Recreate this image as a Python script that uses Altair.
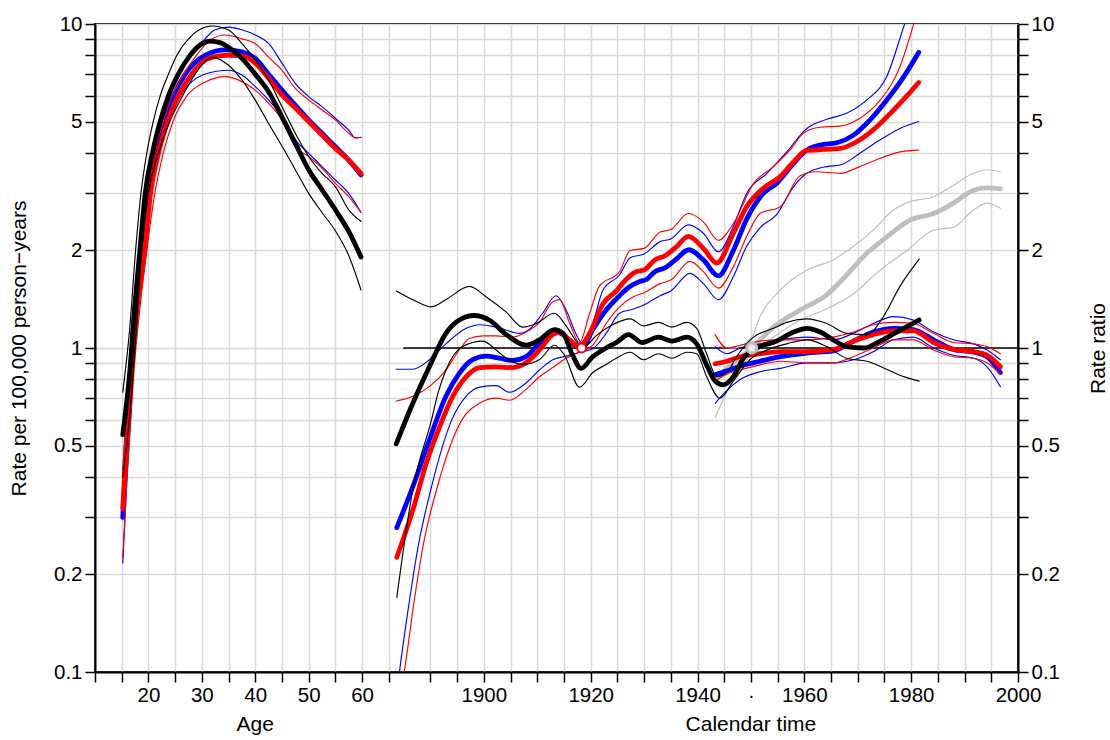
import altair as alt
import pandas as pd

# calendar year -> position on the shared horizontal axis (age units)
AGE_SHIFT = 1817.2

# ---------------- Age effects (x = age, y = rate per 100,000 person-years)
AGE_BLACK = [(15.2, 0.54), (16.5, 0.84), (17.5, 1.38), (18.4, 2.0), (19.4, 3.0), (20.75, 4.0),
             (22.2, 5.0), (23.75, 6.0), (25.6, 7.0), (27.8, 8.0), (29.6, 8.6), (31.6, 8.86),
             (33.5, 8.75), (35, 8.47), (37.5, 7.83), (40, 7.0), (42.5, 6.18), (45, 5.17),
             (47.5, 4.28), (50, 3.55), (52.5, 3.08), (55, 2.67), (57.5, 2.29), (59.8, 1.91)]
AGE_BLACK_HI = [(15.2, 0.73), (16.5, 1.15), (17.6, 2.0), (18.6, 3.0), (19.7, 4.0), (20.9, 5.0),
                (22.2, 6.0), (23.75, 7.0), (25.3, 8.0), (27.5, 9.0), (29.5, 9.6), (31.9, 9.86),
                (35, 9.58), (37.5, 8.71), (40, 7.74), (42.5, 6.72), (45, 5.56), (47.5, 4.6),
                (50, 3.9), (52.5, 3.46), (55, 3.15), (57.5, 2.67), (59.8, 2.46)]
AGE_BLACK_LO = [(15.2, 0.40), (16.5, 0.62), (17.5, 1.0), (18.75, 2.0), (20, 3.0), (21.9, 4.0),
                (24, 5.0), (26.4, 6.0), (28.75, 7.0), (31.9, 7.89), (35, 7.46), (37.5, 6.72),
                (40, 5.82), (42.5, 4.93), (45, 4.2), (47.5, 3.55), (50, 3.0), (52.5, 2.62),
                (55, 2.3), (57.5, 1.93), (59.8, 1.51)]
AGE_BLUE = [(15.2, 0.30), (15.9, 0.50), (17.05, 1.0), (19.0, 2.0), (20.1, 3.0), (21.4, 4.0),
            (22.9, 5.0), (24.7, 6.0), (26.9, 7.0), (30.6, 8.0), (34.4, 8.32), (37.5, 8.2),
            (40, 7.83), (42.5, 7.0), (45, 6.25), (47.5, 5.62), (50, 5.06), (52.5, 4.6),
            (55, 4.18), (57.5, 3.8), (59.8, 3.42)]
AGE_BLUE_HI = [(15.2, 0.42), (16, 0.7), (17, 1.25), (18.4, 2.0), (19.4, 3.0), (20.7, 4.0),
               (22.2, 5.0), (23.6, 6.0), (25.6, 7.0), (28.1, 8.0), (30.6, 9.0), (32.5, 9.6),
               (35, 9.78), (37.5, 9.6), (40, 9.25), (42.5, 8.71), (45, 7.57), (47.5, 6.56),
               (50, 5.97), (52.5, 5.56), (55, 5.12), (57.5, 4.7), (58.8, 4.45), (59.8, 4.47)]
AGE_BLUE_LO = [(15.2, 0.217), (16, 0.40), (17.2, 0.85), (19.25, 2.0), (20.6, 3.0), (22, 4.0),
               (23.75, 5.0), (26, 6.0), (30.5, 7.0), (35, 7.2), (37.5, 6.96), (40, 6.41),
               (42.5, 5.83), (45, 5.18), (47.5, 4.39), (50, 3.99), (52.5, 3.63), (55, 3.3),
               (57.5, 3.0), (59.8, 2.62)]
AGE_RED = [(15.2, 0.32), (15.9, 0.52), (17.1, 1.0), (19.3, 2.0), (20.4, 3.0), (21.9, 4.0),
           (23.6, 5.0), (25.6, 6.0), (28.1, 7.0), (31, 7.8), (34.4, 8.0), (37.5, 7.99),
           (40, 7.57), (42.5, 6.8), (45, 6.04), (47.5, 5.5), (50, 5.0), (52.5, 4.54),
           (55, 4.13), (57.5, 3.8), (59.8, 3.46)]
AGE_RED_HI = [(15.2, 0.40), (16, 0.65), (17, 1.2), (18.75, 2.0), (19.9, 3.0), (21.2, 4.0),
              (22.8, 5.0), (24.5, 6.0), (26.6, 7.0), (29, 8.0), (31.5, 8.9), (34.4, 9.25),
              (37.5, 9.0), (40, 8.7), (42.5, 7.9), (45, 7.2), (47.5, 6.33), (50, 5.83),
              (52.5, 5.43), (55, 5.06), (57.5, 4.6), (58.8, 4.45), (59.8, 4.47)]
AGE_RED_LO = [(15.2, 0.227), (16, 0.40), (17.3, 0.85), (19.7, 2.0), (21.2, 3.0), (22.8, 4.0),
              (24.6, 5.0), (27.2, 6.0), (30.5, 6.6), (34.4, 6.88), (37.5, 6.64), (40, 6.25),
              (42.5, 5.69), (45, 5.06), (47.5, 4.18), (50, 3.9), (52.5, 3.59), (55, 3.22),
              (57.5, 2.93), (59.8, 2.62)]

# ---------------- Cohort effects (x = birth year, y = rate ratio)
COH_BLACK = [(1883.6, 0.506), (1886.7, 0.675), (1889.8, 0.875), (1892.9, 1.11), (1895.4, 1.22),
             (1898.2, 1.26), (1901, 1.22), (1904.2, 1.10), (1907.9, 1.02), (1910.4, 1.06),
             (1913.2, 1.14), (1914.8, 1.11), (1916.6, 0.95), (1918.2, 0.865), (1920.4, 0.94),
             (1922.9, 1.0), (1924.8, 1.04), (1927.1, 1.10), (1929.6, 1.04), (1932.7, 1.08),
             (1935.2, 1.05), (1938, 1.08), (1939.85, 1.03), (1941.7, 0.887), (1943.3, 0.79),
             (1944.85, 0.77), (1946.7, 0.816), (1948.6, 0.93), (1951.1, 1.0), (1954.8, 1.05),
             (1958, 1.12), (1960.5, 1.15), (1963, 1.12), (1965.4, 1.06), (1967.9, 1.01),
             (1971.1, 1.0), (1974.2, 1.05), (1977.3, 1.12), (1981.5, 1.22)]
COH_BLACK_HI = [(1883.6, 1.5), (1886.7, 1.41), (1890.1, 1.34), (1892.9, 1.41), (1897.3, 1.55),
                (1900.4, 1.44), (1904.2, 1.29), (1907.3, 1.16), (1909.8, 1.19), (1913.2, 1.28),
                (1915.1, 1.19), (1917.3, 1.05), (1918.5, 1.0), (1921, 1.09), (1924.1, 1.18),
                (1927.4, 1.23), (1929.9, 1.17), (1932.7, 1.2), (1935.2, 1.16), (1938, 1.2),
                (1939.85, 1.15), (1941.7, 0.96), (1943.6, 0.816), (1945.5, 0.84), (1947.3, 0.94),
                (1950.5, 1.08), (1954.2, 1.15), (1956.7, 1.2), (1960.5, 1.23), (1964.2, 1.19),
                (1967.9, 1.11), (1971.7, 1.10), (1974.8, 1.25), (1977.9, 1.55), (1981.5, 1.88)]
COH_BLACK_LO = [(1883.7, 0.17), (1886.8, 0.373), (1890.2, 0.6), (1891.4, 0.724), (1892.9, 0.855),
                (1896, 1.01), (1899.8, 1.05), (1902.3, 0.986), (1904.2, 0.93), (1907.3, 0.89),
                (1910.4, 0.92), (1913.2, 1.02), (1915.1, 0.95), (1917.9, 0.757), (1920.4, 0.84),
                (1922.9, 0.89), (1924.8, 0.93), (1927.4, 0.97), (1929.9, 0.92), (1932.7, 0.96),
                (1935.2, 0.93), (1938, 0.97), (1939.85, 0.96), (1941.7, 0.816), (1944.2, 0.70),
                (1946.7, 0.79), (1949.8, 0.92), (1953, 0.985), (1956.7, 1.03), (1960.5, 1.06),
                (1964.2, 1.01), (1967.9, 0.93), (1971.7, 0.91), (1975.4, 0.86), (1978.6, 0.816),
                (1981.5, 0.79)]
COH_BLUE = [(1883.7, 0.279), (1886.8, 0.377), (1889.8, 0.52), (1892.9, 0.71), (1895.4, 0.835),
            (1897.9, 0.92), (1900.4, 0.944), (1902.9, 0.93), (1905.4, 0.915), (1907.9, 0.94),
            (1909.8, 1.01), (1911.7, 1.08), (1913.2, 1.13), (1914.8, 1.1), (1916.6, 1.03),
            (1918.4, 1.0), (1920.4, 1.14), (1922.9, 1.31), (1925.4, 1.45), (1927.4, 1.55),
            (1929, 1.6), (1930.5, 1.63), (1932, 1.72), (1934, 1.77), (1936, 1.88), (1938.4, 2.01),
            (1941.1, 1.87), (1943.9, 1.67), (1946.7, 2.0), (1949.2, 2.5), (1952.3, 3.0),
            (1954.8, 3.22), (1957.95, 3.71), (1960.45, 4.08), (1962.95, 4.23), (1966.1, 4.3),
            (1969.2, 4.54), (1972.3, 5.06), (1975.4, 5.82), (1978.6, 6.87), (1981.4, 8.17)]
COH_BLUE_HI = [(1883.6, 0.86), (1886.7, 0.86), (1889.8, 0.92), (1892.9, 1.03), (1896.7, 1.15),
               (1899.2, 1.18), (1902.3, 1.16), (1906.7, 1.11), (1908.5, 1.14), (1911, 1.28),
               (1913.5, 1.45), (1915.4, 1.31), (1917.3, 1.1), (1918.5, 1.03), (1920.4, 1.19),
               (1922.3, 1.51), (1925.4, 1.68), (1927.4, 1.9), (1930, 1.95), (1933, 2.13),
               (1935, 2.17), (1938.3, 2.4), (1941.1, 2.26), (1943.9, 1.98), (1946.7, 2.37),
               (1949.2, 3.0), (1953, 3.46), (1956.7, 4.03), (1960.45, 4.76), (1964.2, 5.08),
               (1967.9, 5.3), (1971.7, 5.83), (1975.4, 6.87), (1978.6, 9.8), (1981.4, 13.5)]
COH_BLUE_LO = [(1883.7, 0.085), (1884.2, 0.1), (1885.9, 0.159), (1887.7, 0.244), (1890.2, 0.373),
               (1894, 0.6), (1896.7, 0.71), (1899.2, 0.757), (1902.3, 0.765), (1904.8, 0.73),
               (1907.9, 0.78), (1910.4, 0.855), (1912.9, 0.92), (1915.4, 0.944), (1917.9, 0.97),
               (1920.4, 0.995), (1922.9, 1.11), (1925.4, 1.28), (1928, 1.32), (1930, 1.36),
               (1933, 1.45), (1935, 1.5), (1938.6, 1.70), (1941.1, 1.58), (1943.9, 1.41),
               (1946.7, 1.66), (1949.2, 2.06), (1951.7, 2.35), (1954.8, 2.58), (1958, 3.15),
               (1960.45, 3.46), (1964.2, 3.63), (1966.7, 3.67), (1970.4, 3.99), (1974.2, 4.39),
               (1977.9, 4.76), (1981.4, 5.0)]
COH_RED = [(1883.7, 0.226), (1886.8, 0.32), (1889.2, 0.44), (1891.7, 0.57), (1894.2, 0.71),
           (1896.7, 0.816), (1899.2, 0.87), (1902.3, 0.874), (1905.4, 0.87), (1907.9, 0.9),
           (1910.4, 0.986), (1912.9, 1.1), (1914.2, 1.12), (1916, 1.06), (1917.9, 1.01),
           (1919.8, 1.11), (1922.3, 1.37), (1924.8, 1.5), (1926.5, 1.62), (1928.5, 1.72),
           (1930, 1.74), (1932, 1.87), (1934, 1.93), (1936, 2.05), (1938.3, 2.21), (1941.1, 2.03),
           (1943.6, 1.83), (1946.7, 2.26), (1949.2, 2.73), (1952.3, 3.11), (1955.5, 3.38),
           (1958, 3.76), (1960.45, 4.07), (1963.6, 4.1), (1966.7, 4.13), (1969.8, 4.33),
           (1972.9, 4.71), (1976.1, 5.3), (1979.2, 6.0), (1981.4, 6.6)]
COH_RED_HI = [(1883.6, 0.686), (1886.7, 0.71), (1889.8, 0.76), (1892.9, 0.855), (1895.4, 0.986),
              (1897.3, 1.07), (1899.8, 1.09), (1902.3, 1.09), (1905.4, 1.08), (1907.9, 1.12),
              (1910.4, 1.2), (1912.9, 1.39), (1914.2, 1.41), (1916, 1.2), (1917.9, 1.04),
              (1919.8, 1.28), (1921.6, 1.55), (1925.4, 1.72), (1927.4, 2.0), (1930, 2.03),
              (1933, 2.28), (1935, 2.32), (1938.3, 2.6), (1941.1, 2.45), (1943.9, 2.15),
              (1946.7, 2.42), (1950.5, 3.22), (1954.2, 3.63), (1957.3, 4.08), (1959.8, 4.6),
              (1962.95, 4.8), (1966.7, 4.84), (1970.4, 5.12), (1974.2, 5.82), (1977.9, 7.38),
              (1980.4, 9.9), (1981.4, 11.2)]
COH_RED_LO = [(1883.7, 0.075), (1885.1, 0.1), (1886.8, 0.159), (1888.6, 0.244), (1891.3, 0.373),
              (1895.9, 0.6), (1899.2, 0.675), (1902.3, 0.70), (1904.8, 0.69), (1907.9, 0.745),
              (1910.4, 0.815), (1912.9, 0.87), (1915.4, 0.93), (1917.9, 0.97), (1920.4, 1.02),
              (1922.9, 1.19), (1925.4, 1.34), (1928, 1.44), (1930, 1.48), (1933, 1.58),
              (1935, 1.62), (1938.6, 1.85), (1941.1, 1.72), (1943.9, 1.53), (1946.7, 1.78),
              (1949.2, 2.21), (1951.7, 2.6), (1955.5, 2.73), (1959.2, 3.4), (1962.3, 3.5),
              (1966.7, 3.46), (1970.4, 3.63), (1974.2, 3.85), (1977.9, 4.03), (1981.4, 4.08)]

# ---------------- Period effects (x = calendar year, y = rate ratio)
PER_YEARS = [1943.3, 1945.5, 1948, 1951.7, 1955.5, 1960.45, 1965.45, 1969.2, 1972.9, 1976.7,
             1980.4, 1984.2, 1987.9, 1991.7, 1994.2, 1996.7]
PER_BLUE = [0.826, 0.85, 0.88, 0.91, 0.94, 0.965, 0.98, 1.05, 1.12, 1.15, 1.14, 1.06, 0.99,
            0.97, 0.94, 0.84]
PER_BLUE_HI = [1.01, 0.96, 1.0, 1.03, 1.06, 1.08, 1.06, 1.11, 1.19, 1.25, 1.22, 1.12, 1.06,
               1.03, 0.986, 0.92]
PER_BLUE_LO = [0.675, 0.74, 0.80, 0.845, 0.865, 0.90, 0.90, 0.92, 0.974, 1.06, 1.08, 1.0, 0.95,
               0.93, 0.875, 0.76]
PER_RED = [0.894, 0.91, 0.94, 0.96, 0.974, 0.975, 0.99, 1.05, 1.10, 1.13, 1.13, 1.04, 0.99,
           0.975, 0.95, 0.875]
PER_RED_HI = [1.10, 1.0, 1.02, 1.05, 1.06, 1.06, 1.08, 1.12, 1.18, 1.2, 1.19, 1.11, 1.04, 1.03,
              1.01, 0.96]
PER_RED_LO = [0.79, 0.83, 0.855, 0.887, 0.91, 0.90, 0.90, 0.94, 1.0, 1.06, 1.06, 0.986, 0.94,
              0.93, 0.90, 0.83]
PER_GRAY = [(1943.3, 0.80), (1946.7, 0.90), (1950.15, 1.0), (1954.2, 1.16), (1959.2, 1.31),
            (1964.2, 1.46), (1966.7, 1.6), (1971.7, 1.96), (1975.4, 2.2), (1979.8, 2.48),
            (1984.2, 2.6), (1987.9, 2.8), (1991.7, 3.07), (1994.2, 3.12), (1996.7, 3.1)]
PER_GRAY_HI = [(1943.3, 1.02), (1946.7, 1.0), (1950.15, 1.08), (1951.7, 1.25), (1955.5, 1.51),
               (1960.5, 1.74), (1965.4, 1.87), (1969.2, 2.06), (1972.9, 2.31), (1976.7, 2.67),
               (1979.8, 2.83), (1984.2, 2.93), (1987.9, 3.18), (1991.7, 3.46), (1994.2, 3.55),
               (1996.7, 3.5)]
PER_GRAY_LO = [(1943.3, 0.61), (1946.7, 0.80), (1950.15, 0.96), (1954.2, 1.08), (1959.2, 1.22),
               (1964.2, 1.32), (1969.2, 1.47), (1974.2, 1.74), (1979.2, 2.0), (1984.2, 2.31),
               (1987.9, 2.36), (1991.7, 2.67), (1994.2, 2.8), (1996.7, 2.7)]

# reference line (RR = 1) and reference points
REF_LINE = [(1885, 1.0), (2000, 1.0)]
REF_COHORT = [(1918.3, 1.0)]
REF_PERIOD = [(1950.15, 1.0)]

# axis ticks / labels
AGE_TICKS = list(range(10, 70, 5))
YEAR_TICKS = list(range(1890, 2005, 5))
Y_TICKS = [0.1, 0.2, 0.3, 0.4, 0.5, 0.6, 0.7, 0.8, 0.9, 1, 2, 3, 4, 5, 6, 7, 8, 9, 10]
Y_LABELLED = [0.1, 0.2, 0.5, 1, 2, 5, 10]
X_TITLES = [("Age", "age", 40), ("Calendar time", "year", 1950)]

BLUE, RED, BLACK, GRAY = "#0000ff", "#ff0000", "#000000", "#bebebe"
THIN, THICK = 1.15, 4.8
FONT = "Liberation Sans"
LABEL_SIZE, TITLE_SIZE = 20.5, 21


def frame(pts, part):
    df = pd.DataFrame(pts, columns=["t", "y"])
    df["x"] = df["t"] if part == "age" else df["t"] - AGE_SHIFT
    return df


def zipped(ys):
    return list(zip(PER_YEARS, ys))


SERIES = [  # (points, part, colour, width) in drawing order
    (REF_LINE, "year", BLACK, 1.3),
    (PER_GRAY_HI, "year", GRAY, THIN), (PER_GRAY_LO, "year", GRAY, THIN),
    (PER_GRAY, "year", GRAY, THICK),
    (AGE_BLUE_HI, "age", BLUE, THIN), (AGE_BLUE_LO, "age", BLUE, THIN),
    (COH_BLUE_HI, "year", BLUE, THIN), (COH_BLUE_LO, "year", BLUE, THIN),
    (zipped(PER_BLUE_HI), "year", BLUE, THIN), (zipped(PER_BLUE_LO), "year", BLUE, THIN),
    (AGE_BLUE, "age", BLUE, THICK), (COH_BLUE, "year", BLUE, THICK),
    (zipped(PER_BLUE), "year", BLUE, THICK),
    (AGE_RED_HI, "age", RED, THIN), (AGE_RED_LO, "age", RED, THIN),
    (COH_RED_HI, "year", RED, THIN), (COH_RED_LO, "year", RED, THIN),
    (zipped(PER_RED_HI), "year", RED, THIN), (zipped(PER_RED_LO), "year", RED, THIN),
    (AGE_RED, "age", RED, THICK), (COH_RED, "year", RED, THICK),
    (zipped(PER_RED), "year", RED, THICK),
    (AGE_BLACK_HI, "age", BLACK, THIN), (AGE_BLACK_LO, "age", BLACK, THIN),
    (COH_BLACK_HI, "year", BLACK, THIN), (COH_BLACK_LO, "year", BLACK, THIN),
    (AGE_BLACK, "age", BLACK, THICK), (COH_BLACK, "year", BLACK, THICK),
]

x_tick_values = [float(a) for a in AGE_TICKS] + [y - AGE_SHIFT for y in YEAR_TICKS]
S = str(AGE_SHIFT)
x_label_expr = (
    "datum.value < 68 ? ((datum.value >= 20 && round(datum.value) % 10 == 0) ? "
    "format(round(datum.value), 'd') : '') : "
    "(round(datum.value + " + S + ") % 20 == 0 ? format(round(datum.value + " + S + "), 'd') : "
    "(round(datum.value + " + S + ") == 1950 ? '\u00b7' : ''))"
)
y_label_expr = "indexof(" + str(Y_LABELLED) + ", datum.value) >= 0 ? format(datum.value, '~g') : ''"

x_scale = alt.Scale(domain=[10, 2000 - AGE_SHIFT], nice=False, zero=False)
y_scale = alt.Scale(type="log", domain=[0.1, 10], nice=False)

X = alt.X("x:Q", scale=x_scale, title=None,
          axis=alt.Axis(values=x_tick_values, labelExpr=x_label_expr, grid=True,
                        labelOverlap=False, labelFlush=False, labelBound=False,
                        tickSize=10, labelPadding=3))

common_y = dict(values=Y_TICKS, labelExpr=y_label_expr, labelOverlap=False,
                labelFlush=False, labelBound=False, tickSize=10, labelPadding=3,
                titleAngle=270, titleAlign="center", titleBaseline="middle",
                titleFontSize=TITLE_SIZE, titleFontWeight="normal", titleFont=FONT, titleY=324)
Y_LEFT = alt.Y("y:Q", scale=y_scale,
               axis=alt.Axis(orient="left", grid=True, title="Rate per 100,000 person\u2212years",
                             titleX=-76, **common_y))
Y_RIGHT = alt.Y("y:Q", scale=y_scale,
                axis=alt.Axis(orient="right", grid=False, title="Rate ratio", titleX=80, **common_y))
Y_NONE = alt.Y("y:Q", scale=y_scale, axis=None)

layers = []
for i, (pts, part, colour, width) in enumerate(SERIES):
    layers.append(
        alt.Chart(frame(pts, part))
        .mark_line(color=colour, strokeWidth=width, interpolate="monotone", clip=True,
                   strokeCap="round")
        .encode(x=X, y=Y_LEFT if i == 0 else Y_NONE, order="t:Q")
    )

coh_pt = alt.Chart(frame(REF_COHORT, "year")).mark_point(
    shape="circle", size=80, color=RED, filled=False, strokeWidth=2, fill="white",
    fillOpacity=1, opacity=1).encode(x=X, y=Y_RIGHT)
per_pt = alt.Chart(frame(REF_PERIOD, "year")).mark_point(
    shape="circle", size=100, color=GRAY, filled=False, strokeWidth=3, fill="#eeeeee",
    fillOpacity=1, opacity=1).encode(x=X, y=Y_NONE)
layers += [coh_pt, per_pt]

titles_df = pd.DataFrame(
    [{"label": lab, "x": (v if part == "age" else v - AGE_SHIFT)} for lab, part, v in X_TITLES])
titles = alt.Chart(titles_df).mark_text(
    font=FONT, fontSize=TITLE_SIZE, color="black", baseline="middle", align="center"
).encode(x=X, y=alt.value(701), text="label:N")
layers.append(titles)

chart = (
    alt.layer(*layers)
    .resolve_axis(y="independent")
    .properties(width=923, height=648,
                autosize=alt.AutoSizeParams(type="none"),
                padding={"left": 95, "top": 24, "right": 92, "bottom": 68},
                background="white")
    .configure_view(stroke="black", strokeWidth=2)
    .configure_axis(domainColor="black", domainWidth=2, tickColor="black", tickWidth=1.5,
                    labelFont=FONT, labelFontSize=LABEL_SIZE, labelColor="black",
                    gridColor="#d9d9d9", gridWidth=1.5, titleColor="black")
)

chart.save("out.html", embed_options={"renderer": "svg", "actions": False})
